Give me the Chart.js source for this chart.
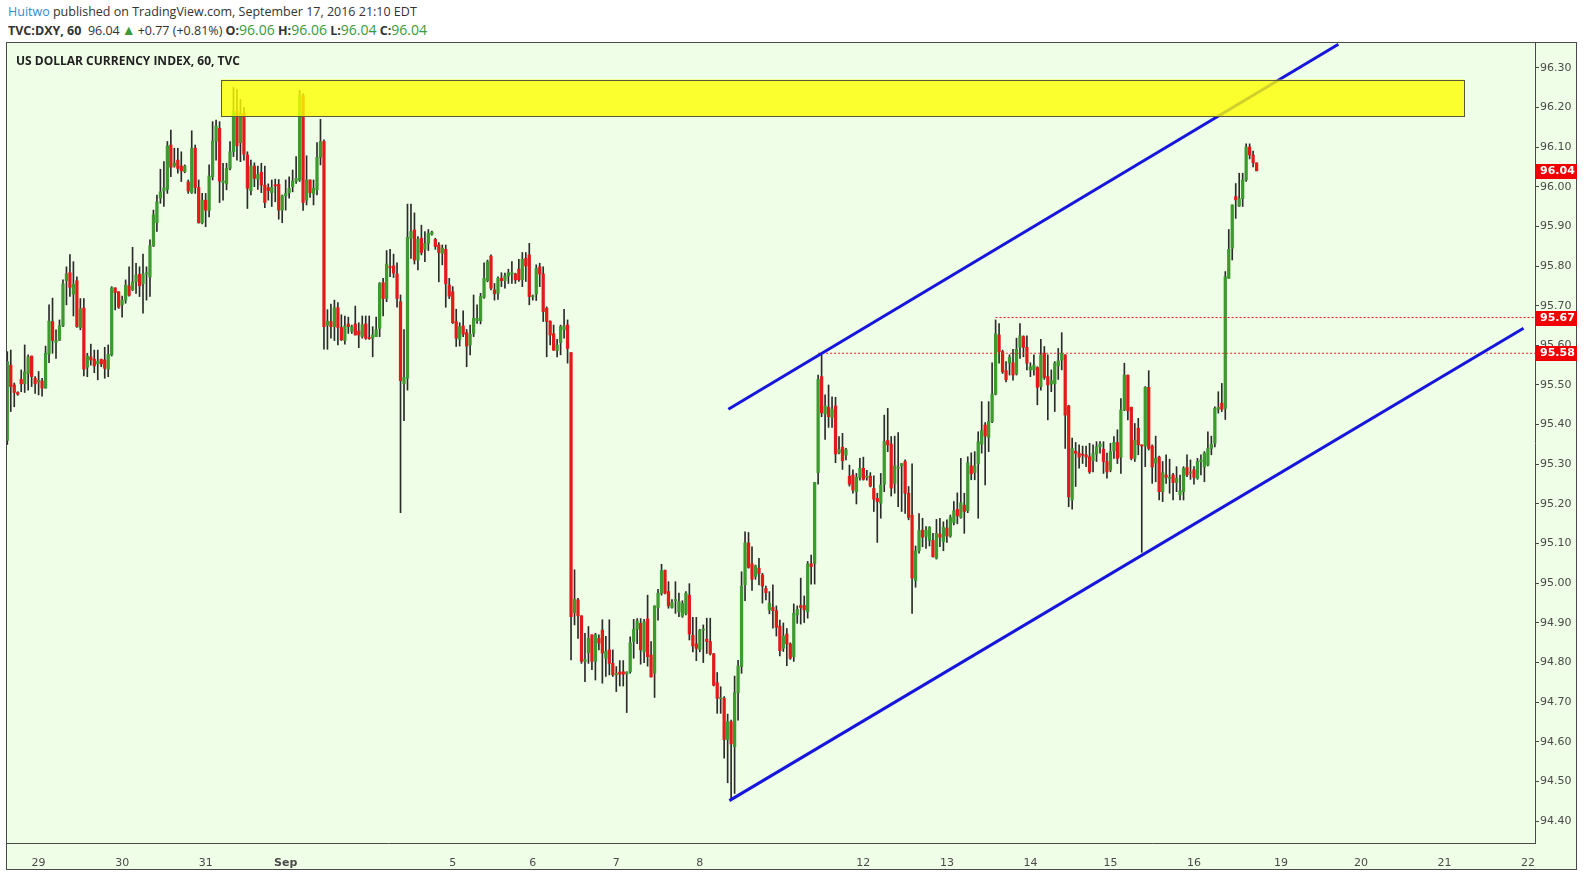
<!DOCTYPE html>
<html>
<head>
<meta charset="utf-8">
<script src="https://cdn.jsdelivr.net/npm/chart.js@4.4.1/dist/chart.umd.min.js"></script>
<style>
  body { margin: 0; background: #fff; width: 1584px; height: 872px; overflow: hidden; position: relative; font-family: 'Open Sans', sans-serif; }
  #c { position: absolute; left: 0; top: 0; }
  .hdr { position: absolute; left: 8px; font-size: 12.5px; line-height: 16px; color: #333; white-space: nowrap; }
  .g { color: #3a9a3a; font-size: 14px; }
  .tri { color: #3a9a3a; font-size: 14px; margin: 0 2px 0 2px; }
  #title { position: absolute; left: 16px; top: 53px; font-size: 12px; line-height: 16px; font-weight: bold; color: #222; white-space: nowrap; }
</style>
</head>
<body>
<div class="hdr" style="top:4px"><span style="color:#2f8dd0">Huitwo</span> published on TradingView.com, September 17, 2016 21:10 EDT</div>
<div class="hdr" style="top:22px"><b>TVC:DXY, 60</b>&nbsp; 96.04<span class="tri">▲</span>+0.77 (+0.81%) <b>O:</b><span class="g">96.06</span> <b>H:</b><span class="g">96.06</span> <b>L:</b><span class="g">96.04</span> <b>C:</b><span class="g">96.04</span></div>
<canvas id="c" width="1584" height="872"></canvas>
<div id="title">US DOLLAR CURRENCY INDEX, 60, TVC</div>
<script>
// hourly candles, TVC:DXY 60
const opens = [
  95.360, 95.550, 95.500, 95.481, 95.514, 95.503, 95.529, 95.573, 95.517, 95.507,
  95.510, 95.492, 95.578, 95.660, 95.607, 95.613, 95.649, 95.763, 95.783, 95.729,
  95.763, 95.645, 95.694, 95.545, 95.571, 95.565, 95.553, 95.565, 95.563, 95.540,
  95.576, 95.745, 95.735, 95.702, 95.714, 95.750, 95.740, 95.760, 95.779, 95.755,
  95.780, 95.772, 95.851, 95.909, 95.971, 95.989, 95.993, 96.105, 96.052, 96.067,
  96.052, 96.038, 96.012, 95.985, 96.097, 95.998, 95.909, 95.966, 95.940, 96.025,
  96.115, 96.147, 96.010, 96.007, 96.046, 96.088, 96.190, 96.111, 96.185, 96.080,
  95.990, 96.052, 96.019, 96.036, 96.004, 95.998, 95.985, 96.005, 96.006, 95.941,
  95.977, 95.985, 96.000, 96.014, 96.017, 96.230, 95.966, 96.017, 95.982, 95.992,
  96.074, 96.114, 95.651, 95.660, 95.647, 95.695, 95.645, 95.612, 95.654, 95.635,
  95.654, 95.636, 95.622, 95.654, 95.618, 95.618, 95.622, 95.643, 95.758, 95.718,
  95.798, 95.800, 95.780, 95.710, 95.503, 95.517, 95.870, 95.891, 95.815, 95.870,
  95.842, 95.857, 95.880, 95.867, 95.853, 95.832, 95.842, 95.752, 95.735, 95.660,
  95.615, 95.649, 95.632, 95.601, 95.630, 95.662, 95.662, 95.721, 95.763, 95.825,
  95.740, 95.731, 95.769, 95.763, 95.775, 95.780, 95.780, 95.792, 95.766, 95.819,
  95.828, 95.722, 95.729, 95.798, 95.780, 95.693, 95.661, 95.629, 95.587, 95.607,
  95.639, 95.651, 95.582, 94.926, 94.958, 94.918, 94.803, 94.825, 94.870, 94.803,
  94.861, 94.882, 94.811, 94.832, 94.798, 94.769, 94.776, 94.777, 94.771, 94.777,
  94.853, 94.884, 94.899, 94.827, 94.910, 94.819, 94.773, 94.939, 94.975, 95.033,
  94.979, 94.939, 94.956, 94.928, 94.917, 94.924, 94.970, 94.869, 94.847, 94.833,
  94.882, 94.859, 94.853, 94.822, 94.749, 94.709, 94.710, 94.606, 94.651, 94.588,
  94.724, 94.790, 94.996, 95.102, 95.049, 95.017, 95.038, 95.021, 94.987, 94.933,
  94.939, 94.931, 94.892, 94.836, 94.872, 94.847, 94.815, 94.920, 94.944, 94.944,
  94.928, 95.049, 95.050, 95.279, 95.521, 95.427, 95.444, 95.418, 95.447, 95.329,
  95.343, 95.323, 95.270, 95.273, 95.231, 95.267, 95.290, 95.267, 95.270, 95.239,
  95.214, 95.202, 95.250, 95.360, 95.351, 95.252, 95.290, 95.296, 95.307, 95.227,
  95.172, 95.007, 95.082, 95.134, 95.118, 95.108, 95.108, 95.063, 95.124, 95.105,
  95.139, 95.119, 95.153, 95.186, 95.166, 95.197, 95.183, 95.296, 95.279, 95.301,
  95.351, 95.399, 95.368, 95.408, 95.477, 95.626, 95.584, 95.536, 95.555, 95.556,
  95.528, 95.595, 95.622, 95.595, 95.538, 95.538, 95.544, 95.496, 95.580, 95.521,
  95.502, 95.503, 95.548, 95.563, 95.576, 95.447, 95.210, 95.333, 95.328, 95.324,
  95.324, 95.319, 95.309, 95.326, 95.344, 95.338, 95.307, 95.286, 95.334, 95.355,
  95.318, 95.437, 95.525, 95.444, 95.315, 95.391, 95.349, 95.346, 95.494, 95.346,
  95.303, 95.318, 95.231, 95.273, 95.265, 95.273, 95.254, 95.223, 95.231, 95.292,
  95.278, 95.286, 95.265, 95.307, 95.293, 95.298, 95.340, 95.353, 95.439, 95.454,
  95.441, 95.769, 95.845, 95.975, 95.951, 95.970, 96.017, 96.100, 96.080, 96.060
];
const highs = [
  95.584, 95.588, 95.505, 95.483, 95.538, 95.601, 95.576, 95.573, 95.521, 95.534,
  95.517, 95.598, 95.702, 95.719, 95.639, 95.664, 95.765, 95.798, 95.829, 95.811,
  95.773, 95.718, 95.718, 95.580, 95.603, 95.588, 95.588, 95.565, 95.595, 95.601,
  95.748, 95.745, 95.735, 95.724, 95.765, 95.798, 95.847, 95.807, 95.798, 95.830,
  95.798, 95.866, 95.941, 95.979, 96.044, 96.063, 96.114, 96.143, 96.097, 96.097,
  96.088, 96.055, 96.017, 96.141, 96.105, 96.017, 95.983, 95.983, 96.055, 96.164,
  96.168, 96.164, 96.059, 96.059, 96.114, 96.250, 96.245, 96.220, 96.200, 96.088,
  96.067, 96.060, 96.052, 96.059, 96.052, 96.007, 96.017, 96.019, 96.018, 95.979,
  96.017, 96.025, 96.042, 96.076, 96.243, 96.235, 96.078, 96.017, 96.017, 96.111,
  96.170, 96.118, 95.690, 95.704, 95.714, 95.708, 95.677, 95.674, 95.671, 95.651,
  95.699, 95.657, 95.674, 95.674, 95.674, 95.647, 95.671, 95.758, 95.769, 95.839,
  95.842, 95.830, 95.808, 95.727, 95.640, 95.956, 95.956, 95.934, 95.874, 95.903,
  95.887, 95.892, 95.888, 95.870, 95.859, 95.853, 95.853, 95.769, 95.748, 95.691,
  95.657, 95.687, 95.640, 95.651, 95.727, 95.702, 95.731, 95.808, 95.815, 95.828,
  95.756, 95.773, 95.783, 95.782, 95.792, 95.811, 95.782, 95.817, 95.834, 95.834,
  95.857, 95.727, 95.803, 95.807, 95.798, 95.697, 95.662, 95.651, 95.615, 95.651,
  95.691, 95.664, 95.582, 95.034, 94.962, 94.918, 94.874, 94.891, 94.870, 94.874,
  94.870, 94.908, 94.866, 94.908, 94.832, 94.790, 94.805, 94.805, 94.777, 94.865,
  94.909, 94.911, 94.911, 94.909, 94.970, 94.853, 94.943, 94.985, 95.048, 95.033,
  95.004, 94.959, 95.004, 94.975, 94.956, 94.979, 94.999, 94.914, 94.914, 94.884,
  94.895, 94.912, 94.912, 94.823, 94.775, 94.739, 94.714, 94.670, 94.655, 94.766,
  94.806, 95.029, 95.130, 95.128, 95.092, 95.046, 95.063, 95.025, 94.993, 94.979,
  94.996, 94.943, 94.907, 94.900, 94.886, 94.850, 94.948, 94.943, 95.013, 94.968,
  95.055, 95.071, 95.254, 95.525, 95.576, 95.475, 95.500, 95.470, 95.469, 95.370,
  95.378, 95.340, 95.298, 95.286, 95.277, 95.315, 95.318, 95.285, 95.279, 95.271,
  95.227, 95.277, 95.424, 95.441, 95.370, 95.371, 95.380, 95.302, 95.311, 95.244,
  95.301, 95.094, 95.176, 95.164, 95.143, 95.143, 95.126, 95.161, 95.164, 95.155,
  95.160, 95.172, 95.206, 95.228, 95.315, 95.227, 95.319, 95.329, 95.332, 95.382,
  95.458, 95.405, 95.458, 95.556, 95.664, 95.655, 95.588, 95.559, 95.576, 95.590,
  95.618, 95.655, 95.624, 95.624, 95.556, 95.576, 95.546, 95.615, 95.597, 95.576,
  95.538, 95.559, 95.592, 95.632, 95.576, 95.449, 95.366, 95.355, 95.349, 95.346,
  95.346, 95.353, 95.349, 95.357, 95.357, 95.357, 95.328, 95.353, 95.370, 95.387,
  95.466, 95.555, 95.525, 95.444, 95.403, 95.416, 95.349, 95.496, 95.536, 95.349,
  95.371, 95.321, 95.307, 95.324, 95.313, 95.277, 95.294, 95.273, 95.294, 95.324,
  95.311, 95.294, 95.315, 95.324, 95.332, 95.382, 95.371, 95.445, 95.483, 95.504,
  95.786, 95.892, 95.954, 96.008, 96.034, 96.034, 96.108, 96.108, 96.090, 96.060
];
const lows = [
  95.350, 95.433, 95.445, 95.474, 95.483, 95.481, 95.487, 95.496, 95.479, 95.475,
  95.472, 95.492, 95.556, 95.580, 95.567, 95.612, 95.647, 95.702, 95.723, 95.674,
  95.645, 95.639, 95.523, 95.521, 95.550, 95.531, 95.513, 95.546, 95.517, 95.521,
  95.573, 95.689, 95.693, 95.671, 95.706, 95.724, 95.738, 95.731, 95.723, 95.681,
  95.714, 95.723, 95.849, 95.887, 95.958, 95.950, 95.983, 96.025, 96.049, 96.034,
  96.013, 96.035, 95.983, 95.983, 95.983, 95.908, 95.906, 95.899, 95.924, 96.017,
  96.067, 95.960, 95.966, 95.992, 96.042, 96.076, 96.067, 96.063, 96.067, 95.945,
  95.979, 96.000, 95.993, 95.985, 95.947, 95.966, 95.950, 95.962, 95.918, 95.909,
  95.941, 95.971, 95.987, 96.008, 96.013, 95.940, 95.954, 95.973, 95.954, 95.979,
  96.055, 95.590, 95.590, 95.618, 95.612, 95.601, 95.612, 95.603, 95.630, 95.630,
  95.626, 95.594, 95.618, 95.615, 95.615, 95.571, 95.622, 95.622, 95.674, 95.710,
  95.773, 95.771, 95.696, 95.178, 95.410, 95.487, 95.819, 95.805, 95.790, 95.828,
  95.811, 95.839, 95.878, 95.842, 95.760, 95.803, 95.696, 95.718, 95.655, 95.597,
  95.598, 95.622, 95.546, 95.576, 95.622, 95.655, 95.654, 95.718, 95.760, 95.740,
  95.714, 95.716, 95.748, 95.744, 95.756, 95.756, 95.756, 95.761, 95.748, 95.761,
  95.702, 95.714, 95.713, 95.748, 95.660, 95.571, 95.601, 95.587, 95.571, 95.576,
  95.618, 95.555, 94.807, 94.895, 94.861, 94.798, 94.752, 94.798, 94.782, 94.756,
  94.832, 94.748, 94.765, 94.769, 94.765, 94.727, 94.741, 94.741, 94.674, 94.773,
  94.811, 94.848, 94.796, 94.800, 94.791, 94.763, 94.712, 94.907, 94.970, 94.973,
  94.937, 94.937, 94.924, 94.916, 94.914, 94.920, 94.857, 94.827, 94.805, 94.827,
  94.800, 94.823, 94.819, 94.741, 94.672, 94.672, 94.559, 94.497, 94.454, 94.470,
  94.655, 94.773, 94.956, 95.038, 94.982, 95.010, 94.996, 94.950, 94.958, 94.923,
  94.887, 94.867, 94.817, 94.828, 94.792, 94.808, 94.803, 94.899, 94.897, 94.901,
  94.912, 94.998, 94.998, 95.250, 95.420, 95.363, 95.393, 95.393, 95.304, 95.326,
  95.287, 95.311, 95.245, 95.227, 95.200, 95.260, 95.260, 95.260, 95.243, 95.181,
  95.103, 95.164, 95.231, 95.332, 95.220, 95.227, 95.193, 95.181, 95.176, 95.160,
  94.924, 94.990, 95.076, 95.092, 95.088, 95.094, 95.066, 95.061, 95.092, 95.082,
  95.103, 95.116, 95.147, 95.150, 95.164, 95.126, 95.178, 95.261, 95.261, 95.164,
  95.328, 95.248, 95.332, 95.405, 95.475, 95.555, 95.529, 95.508, 95.525, 95.512,
  95.525, 95.567, 95.571, 95.538, 95.521, 95.525, 95.450, 95.487, 95.514, 95.412,
  95.483, 95.433, 95.514, 95.538, 95.340, 95.193, 95.187, 95.244, 95.290, 95.302,
  95.294, 95.277, 95.281, 95.307, 95.328, 95.277, 95.265, 95.281, 95.315, 95.302,
  95.277, 95.435, 95.412, 95.311, 95.307, 95.324, 95.078, 95.294, 95.336, 95.252,
  95.256, 95.210, 95.206, 95.252, 95.227, 95.210, 95.231, 95.210, 95.210, 95.269,
  95.262, 95.250, 95.262, 95.273, 95.256, 95.296, 95.324, 95.344, 95.429, 95.433,
  95.413, 95.769, 95.815, 95.920, 95.950, 95.950, 96.013, 96.070, 96.050, 96.040
];
const closes = [
  95.559, 95.496, 95.481, 95.477, 95.503, 95.533, 95.571, 95.521, 95.503, 95.512,
  95.492, 95.580, 95.661, 95.612, 95.612, 95.649, 95.755, 95.780, 95.746, 95.754,
  95.647, 95.692, 95.540, 95.573, 95.563, 95.548, 95.560, 95.553, 95.542, 95.577,
  95.745, 95.733, 95.696, 95.714, 95.752, 95.726, 95.760, 95.777, 95.750, 95.780,
  95.783, 95.851, 95.929, 95.962, 95.987, 95.997, 96.103, 96.049, 96.060, 96.046,
  96.040, 96.052, 95.989, 96.097, 95.998, 95.909, 95.966, 95.941, 96.027, 96.115,
  96.153, 96.014, 96.015, 96.046, 96.088, 96.190, 96.103, 96.185, 96.082, 95.996,
  96.052, 96.021, 96.031, 96.004, 95.960, 95.990, 95.998, 96.002, 95.941, 95.977,
  95.983, 95.996, 96.014, 96.021, 96.230, 95.960, 96.017, 95.985, 95.996, 96.074,
  96.114, 95.647, 95.661, 95.647, 95.695, 95.645, 95.614, 95.649, 95.647, 95.647,
  95.626, 95.626, 95.652, 95.618, 95.617, 95.626, 95.640, 95.756, 95.718, 95.805,
  95.796, 95.782, 95.718, 95.511, 95.519, 95.872, 95.887, 95.815, 95.867, 95.834,
  95.857, 95.882, 95.886, 95.849, 95.834, 95.845, 95.755, 95.724, 95.657, 95.618,
  95.647, 95.628, 95.598, 95.628, 95.668, 95.668, 95.723, 95.769, 95.811, 95.744,
  95.730, 95.769, 95.763, 95.775, 95.783, 95.783, 95.765, 95.765, 95.817, 95.800,
  95.723, 95.725, 95.794, 95.780, 95.685, 95.660, 95.626, 95.588, 95.601, 95.647,
  95.649, 95.592, 94.916, 94.960, 94.918, 94.803, 94.808, 94.861, 94.803, 94.870,
  94.849, 94.824, 94.828, 94.798, 94.769, 94.773, 94.771, 94.771, 94.776, 94.850,
  94.884, 94.905, 94.832, 94.903, 94.815, 94.764, 94.943, 94.975, 95.032, 94.975,
  94.943, 94.951, 94.959, 94.954, 94.949, 94.975, 94.872, 94.842, 94.836, 94.882,
  94.883, 94.853, 94.822, 94.743, 94.710, 94.710, 94.606, 94.651, 94.595, 94.724,
  94.791, 94.993, 95.102, 95.040, 95.010, 95.044, 95.024, 94.993, 94.976, 94.950,
  94.931, 94.889, 94.830, 94.867, 94.847, 94.811, 94.924, 94.934, 94.939, 94.933,
  95.049, 95.042, 95.254, 95.514, 95.430, 95.447, 95.420, 95.439, 95.326, 95.337,
  95.309, 95.337, 95.250, 95.235, 95.267, 95.290, 95.262, 95.270, 95.245, 95.212,
  95.206, 95.248, 95.357, 95.349, 95.240, 95.296, 95.290, 95.302, 95.227, 95.166,
  95.013, 95.082, 95.133, 95.116, 95.134, 95.141, 95.067, 95.126, 95.116, 95.141,
  95.119, 95.166, 95.183, 95.170, 95.203, 95.181, 95.304, 95.276, 95.296, 95.357,
  95.385, 95.371, 95.408, 95.477, 95.629, 95.584, 95.533, 95.513, 95.570, 95.525,
  95.590, 95.624, 95.595, 95.555, 95.546, 95.550, 95.494, 95.576, 95.519, 95.500,
  95.511, 95.555, 95.561, 95.580, 95.424, 95.218, 95.340, 95.328, 95.318, 95.323,
  95.318, 95.281, 95.327, 95.344, 95.351, 95.307, 95.281, 95.332, 95.355, 95.315,
  95.437, 95.525, 95.435, 95.315, 95.361, 95.349, 95.346, 95.494, 95.340, 95.293,
  95.315, 95.231, 95.279, 95.267, 95.267, 95.254, 95.265, 95.233, 95.290, 95.273,
  95.279, 95.267, 95.307, 95.311, 95.328, 95.340, 95.351, 95.441, 95.444, 95.439,
  95.773, 95.842, 95.954, 95.967, 95.970, 96.017, 96.100, 96.080, 96.060, 96.040
];

// time axis: bar index where each labelled day starts
const dayTicks  = [9, 33, 57, 80, 128, 151, 175, 199, 246, 270, 294, 317, 341, 366, 389, 413, 437];
const dayLabels = ['29', '30', '31', 'Sep', '5', '6', '7', '8', '12', '13', '14', '15', '16', '19', '20', '21', '22'];
const priceTicks = [94.4, 94.5, 94.6, 94.7, 94.8, 94.9, 95.0, 95.1, 95.2, 95.3, 95.4, 95.5, 95.6, 95.7, 95.8, 95.9, 96.0, 96.1, 96.2, 96.3];

// drawings (bar index, price)
const upperChannel = [{x: 207.2, y: 95.439}, {x: 382.5, y: 96.359}];
const lowerChannel = [{x: 207.5, y: 94.452}, {x: 435.7, y: 95.643}];
const resistLevels = [95.67, 95.58];
const resistStart  = [284, 233];
const supplyZone = {x0: 61.4, x1: 418.6, y0: 96.178, y1: 96.270};
const lastPrice = 96.04;

const X_MIN = -0.37, X_MAX = 439;
const UP = '#3d9a2f', DOWN = '#e31a1a', WICK = '#2b2b2b';
const BG = '#effee6', FRAME = '#4a4a4a';

Chart.defaults.font.family = 'DejaVu Sans';
Chart.defaults.font.size = 11;
Chart.defaults.color = '#4a4a4a';

const isUp = i => closes[i] >= opens[i];

const bodies = opens.map((o, i) => ({x: i, y: [o, closes[i]]}));
const wicks = lows.map((l, i) => ({x: i, y: [l, highs[i]]}));

const datasets = [
  {
    type: 'bar', data: bodies, order: 1, grouped: false,
    barThickness: 2.6, minBarLength: 1,
    backgroundColor: ctx => isUp(ctx.dataIndex) ? UP : DOWN
  },
  {
    type: 'bar', data: wicks, order: 2, grouped: false,
    barThickness: 1, backgroundColor: WICK
  },
  {
    type: 'line', data: upperChannel, order: 0,
    borderColor: '#1515dd', borderWidth: 3, pointRadius: 0
  },
  {
    type: 'line', data: lowerChannel, order: 0,
    borderColor: '#1515dd', borderWidth: 3, pointRadius: 0
  }
];
resistLevels.forEach((lv, k) => {
  datasets.push({
    type: 'line', order: 0,
    data: [{x: resistStart[k], y: lv}, {x: X_MAX, y: lv}],
    borderColor: '#dd2020', borderWidth: 1, borderDash: [2, 2], pointRadius: 0
  });
});

const frame = {
  id: 'frame',
  beforeDraw(chart) {
    const c = chart.ctx;
    c.save();
    c.fillStyle = BG;
    c.fillRect(6, 42, 1571, 828);
    c.restore();
  },
  afterDatasetsDraw(chart) {
    const c = chart.ctx, xs = chart.scales.x, ys = chart.scales.y, a = chart.chartArea;
    const x0 = xs.getPixelForValue(supplyZone.x0), x1 = xs.getPixelForValue(supplyZone.x1);
    const y0 = ys.getPixelForValue(supplyZone.y1), y1 = ys.getPixelForValue(supplyZone.y0);
    c.save();
    c.beginPath();
    c.rect(a.left, a.top, a.right - a.left, a.bottom - a.top);
    c.clip();
    c.fillStyle = 'rgba(255,255,0,0.8)';
    c.fillRect(x0, y0, x1 - x0, y1 - y0);
    c.strokeStyle = '#5a5a3a';
    c.lineWidth = 1;
    c.strokeRect(Math.round(x0) + 0.5, Math.round(y0) + 0.5, Math.round(x1 - x0), Math.round(y1 - y0));
    c.restore();
  },
  afterDraw(chart) {
    const c = chart.ctx, ys = chart.scales.y;
    c.save();
    c.strokeStyle = FRAME;
    c.lineWidth = 1;
    c.strokeRect(6.5, 42.5, 1570, 827);
    // price tags
    c.font = 'bold 11px DejaVu Sans';
    c.textBaseline = 'middle';
    [lastPrice].concat(resistLevels).forEach(v => {
      const y = Math.round(ys.getPixelForValue(v));
      c.fillStyle = '#f00000';
      c.fillRect(ys.left + 1, y - 7, 41, 15);
      c.fillStyle = '#fff';
      c.fillText(v.toFixed(2), ys.left + 5, y + 0.5);
    });
    c.restore();
  }
};

new Chart(document.getElementById('c'), {
  type: 'bar',
  data: {datasets},
  options: {
    responsive: false,
    animation: false,
    events: [],
    layout: {padding: {left: 6, right: 7, top: 43, bottom: 2}},
    plugins: {legend: {display: false}, tooltip: {enabled: false}},
    scales: {
      x: {
        type: 'linear', min: X_MIN, max: X_MAX, offset: false,
        afterBuildTicks: s => { s.ticks = dayTicks.map(v => ({value: v})); },
        afterFit: s => { s.height = 27; },
        ticks: {
          autoSkip: false, maxRotation: 0, padding: 6,
          callback: (v, i) => dayLabels[i],
          font: ctx => ({family: 'DejaVu Sans', size: 11, weight: dayLabels[ctx.index] === 'Sep' ? 'bold' : 'normal'})
        },
        grid: {display: false},
        border: {display: true, color: FRAME}
      },
      y: {
        position: 'right', min: 94.3451, max: 96.3623,
        afterBuildTicks: s => { s.ticks = priceTicks.map(v => ({value: v})); },
        afterFit: s => { s.width = 42; },
        ticks: {padding: 1, callback: v => v.toFixed(2)},
        grid: {drawOnChartArea: false, drawTicks: true, tickLength: 4, color: FRAME},
        border: {display: true, color: FRAME}
      }
    }
  },
  plugins: [frame]
});
</script>
</body>
</html>
